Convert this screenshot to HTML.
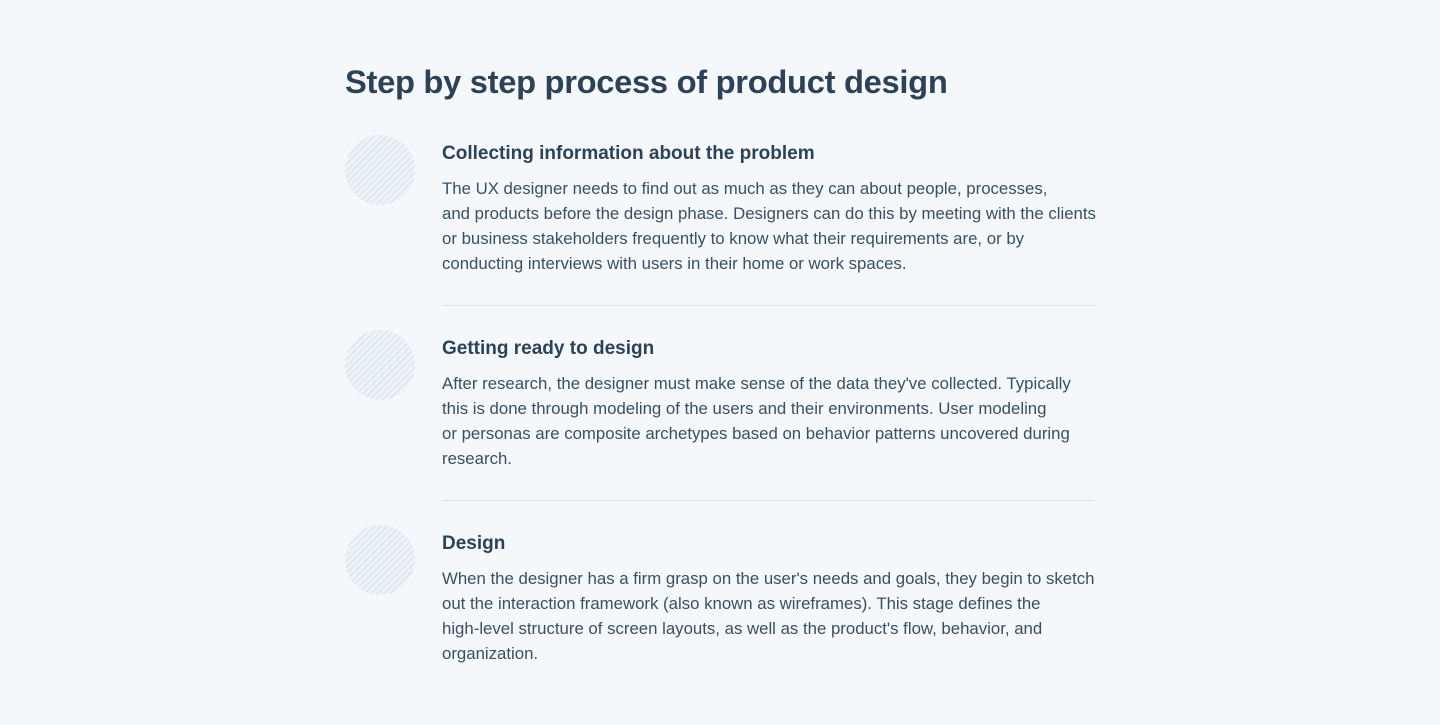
<!DOCTYPE html>
<html><head><meta charset="utf-8"><style>
html,body{margin:0;padding:0;background:#f4f8fb;width:1440px;height:725px;overflow:hidden}
body{font-family:"Liberation Sans",sans-serif;color:#2d4257;position:relative}
h1{position:absolute;left:345px;top:61px;margin:0;font-size:32.7px;font-weight:bold;letter-spacing:-0.3px;line-height:42px}
.item{position:absolute;left:345px;width:780px}
.c{position:absolute;left:0;top:0;width:70px;height:70px;border-radius:50%;
background:repeating-linear-gradient(-45deg,#dde5ee 0 1.5px,#eef3f8 1.5px 4.5px)}
h2{position:absolute;left:97px;top:6px;margin:0;font-size:19px;font-weight:bold;line-height:26px;white-space:nowrap}
p{position:absolute;left:97px;top:41px;margin:0;font-size:16.8px;line-height:25px;width:700px;color:#3a4f63;white-space:nowrap}
.hr{position:absolute;left:442px;width:653px;height:1px;background:#dbe1e7}
</style></head><body>
<h1>Step by step process of product design</h1>
<div class="item" style="top:135px"><div class="c"></div>
<h2>Collecting information about the problem</h2>
<p>The UX designer needs to find out as much as they can about people, processes,<br>and products before the design phase. Designers can do this by meeting with the clients<br>or business stakeholders frequently to know what their requirements are, or by<br>conducting interviews with users in their home or work spaces.</p></div>
<div class="hr" style="top:305px"></div>
<div class="item" style="top:330px"><div class="c"></div>
<h2>Getting ready to design</h2>
<p>After research, the designer must make sense of the data they've collected. Typically<br>this is done through modeling of the users and their environments. User modeling<br>or personas are composite archetypes based on behavior patterns uncovered during<br>research.</p></div>
<div class="hr" style="top:500px"></div>
<div class="item" style="top:525px"><div class="c"></div>
<h2>Design</h2>
<p>When the designer has a firm grasp on the user's needs and goals, they begin to sketch<br>out the interaction framework (also known as wireframes). This stage defines the<br>high-level structure of screen layouts, as well as the product's flow, behavior, and<br>organization.</p></div>
</body></html>
